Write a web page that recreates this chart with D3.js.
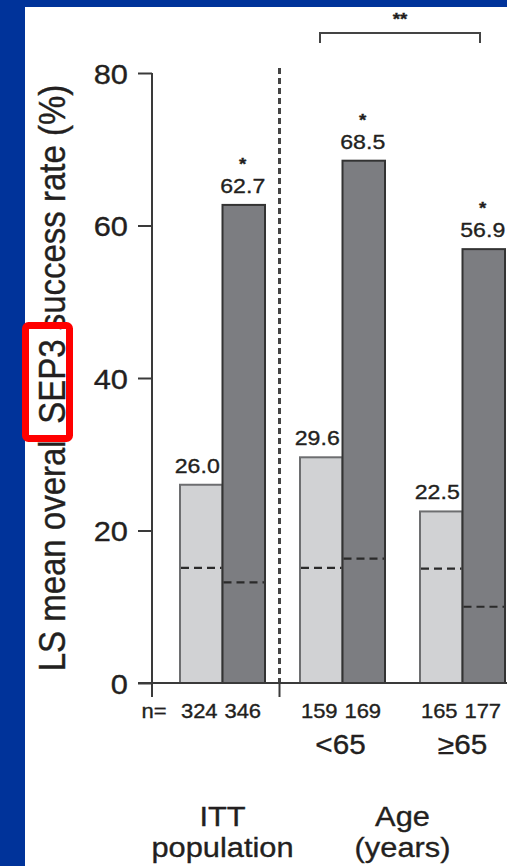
<!DOCTYPE html>
<html>
<head>
<meta charset="utf-8">
<script src="https://cdn.jsdelivr.net/npm/d3@7"></script>
<style>
  html, body { margin: 0; padding: 0; background: #00339a; }
  svg { display: block; }
  text { font-family: "Liberation Sans", Arial, Helvetica, sans-serif; fill: #231f20; stroke: #231f20; stroke-width: 0.35px; }
</style>
</head>
<body>
<svg id="chart" width="507" height="866"></svg>
<script>
// Subgroups along the x axis
const groups = ["ITT", "<65", "≥65"];
const groupLabels = [["ITT", "population"], ["<65"], ["≥65"]];
const seriesKeys = ["control", "active"];

// LS mean overall SEP3 success rate (%)
const controlValues = [26.0, 29.6, 22.5];
const activeValues = [62.7, 68.5, 56.9];

// Reference levels drawn as dashed lines inside each bar
const controlRef = [15.1, 15.1, 15.0];
const activeRef = [13.2, 16.3, 10.0];

// Patients per bar
const controlN = [324, 159, 165];
const activeN = [346, 169, 177];

// Significance marks above the active bars
const activeStars = ["*", "*", "*"];
const bracketMark = "**";

const yTicks = [0, 20, 40, 60, 80];
const yTitle = "LS mean overall SEP3 success rate (%)";

const W = 507, H = 866;
const SX = 1.1; // horizontal stretch of the lettering

const svg = d3.select("#chart");

// white card on the blue slide
svg.append("rect").attr("x", 25).attr("y", 7).attr("width", W - 25).attr("height", H - 7).attr("fill", "#fff");

const y = d3.scaleLinear().domain([0, 80]).range([683, 73]);
const axisX = 152;

const x = d3.scaleBand().domain(groups).range([axisX, 533])
  .paddingInner(35 / 120).paddingOuter(28 / 120);
const xs = d3.scaleBand().domain(seriesKeys).range([0, x.bandwidth()]);

const rows = groups.map((g, i) => ({
  g, i,
  control: controlValues[i], active: activeValues[i],
  controlRef: controlRef[i], activeRef: activeRef[i],
  controlN: controlN[i], activeN: activeN[i], star: activeStars[i]
}));

function stretchedText(sel, px, py, str, size, anchor) {
  return sel.append("text")
    .attr("transform", `translate(${px},${py}) scale(${SX},1)`)
    .attr("text-anchor", anchor || "middle")
    .attr("font-size", size)
    .text(str);
}

// y axis
const yAxis = d3.axisLeft(y).tickValues(yTicks).tickSize(14).tickSizeOuter(0).tickFormat(d3.format("d"));
const yg = svg.append("g").attr("transform", `translate(${axisX},0)`).call(yAxis);
yg.select(".domain").remove();
yg.selectAll(".tick line").attr("stroke", "#3a3a3a").attr("stroke-width", 2);
yg.selectAll(".tick text")
  .attr("x", null).attr("dy", null)
  .attr("font-size", 28)
  .attr("font-family", "Liberation Sans, Arial, sans-serif")
  .attr("fill", "#231f20")
  .attr("text-anchor", "end")
  .attr("transform", `translate(-24,10) scale(${SX},1)`);
svg.append("line").attr("x1", axisX).attr("x2", axisX).attr("y1", y(80)).attr("y2", y(0) + 14)
  .attr("stroke", "#3a3a3a").attr("stroke-width", 2);

// separator between the overall population and the age subgroups
const sepX = x(groups[1]) - 20.5;
svg.append("line").attr("x1", sepX).attr("x2", sepX).attr("y1", 68).attr("y2", y(0))
  .attr("stroke", "#444").attr("stroke-width", 3).attr("stroke-dasharray", "6,4");
svg.append("line").attr("x1", sepX).attr("x2", sepX).attr("y1", y(0)).attr("y2", y(0) + 14)
  .attr("stroke", "#3a3a3a").attr("stroke-width", 2);

// bars: control first with its labels, active bars drawn over them
const barG = svg.append("g");
const lightFill = "#d1d2d4", darkFill = "#7c7d81";

rows.forEach(r => {
  const x0 = x(r.g) + xs("control");
  barG.append("rect").attr("x", x0).attr("y", y(r.control))
    .attr("width", xs.bandwidth()).attr("height", y(0) - y(r.control))
    .attr("fill", lightFill).attr("stroke", "#6d6e70").attr("stroke-width", 2);
  stretchedText(barG, x0 + xs.bandwidth() / 2 - 4, y(r.control) - 12, d3.format(".1f")(r.control), 21);
});

rows.forEach(r => {
  const x1 = x(r.g) + xs("active");
  barG.append("rect").attr("x", x1).attr("y", y(r.active))
    .attr("width", xs.bandwidth()).attr("height", y(0) - y(r.active))
    .attr("fill", darkFill).attr("stroke", "#333", ).attr("stroke-width", 2);
  stretchedText(barG, x1 + xs.bandwidth() / 2 - 1, y(r.active) - 12, d3.format(".1f")(r.active), 21);
  stretchedText(barG, x1 + xs.bandwidth() / 2 - 1, y(r.active) - 12 - 33 + 10, r.star, 17)
    .attr("font-weight", "bold");
});

// dashed reference levels
rows.forEach(r => {
  [["control", r.controlRef], ["active", r.activeRef]].forEach(([k, v]) => {
    const bx = x(r.g) + xs(k);
    barG.append("line").attr("x1", bx + 1).attr("x2", bx + xs.bandwidth() - 1)
      .attr("y1", y(v)).attr("y2", y(v))
      .attr("stroke", "#2a2a2a").attr("stroke-width", 2.2).attr("stroke-dasharray", "8,5");
  });
});

// x baseline
svg.append("line").attr("x1", 138).attr("x2", W).attr("y1", y(0)).attr("y2", y(0))
  .attr("stroke", "#3a3a3a").attr("stroke-width", 2);

// sample sizes
stretchedText(svg, 154, 718, "n=", 20);
rows.forEach(r => {
  stretchedText(svg, x(r.g) + xs("control") + xs.bandwidth() / 2 - 2, 718, r.controlN, 20);
  stretchedText(svg, x(r.g) + xs("active") + xs.bandwidth() / 2 - 1, 718, r.activeN, 20);
});

// subgroup labels
stretchedText(svg, x(groups[1]) + x.bandwidth() / 2 - 2, 754, groupLabels[1][0], 27);
stretchedText(svg, x(groups[2]) + x.bandwidth() / 2, 754, groupLabels[2][0], 27);

// group headings
const ittX = x(groups[0]) + x.bandwidth() / 2;
stretchedText(svg, ittX, 826, groupLabels[0][0], 28);
stretchedText(svg, ittX, 857, groupLabels[0][1], 28);
const ageX = (x(groups[1]) + x(groups[2]) + x.bandwidth()) / 2;
stretchedText(svg, ageX, 826, "Age", 28);
stretchedText(svg, ageX, 857, "(years)", 28);

// significance bracket between the age subgroups
const bx1 = x(groups[1]) + 20, bx2 = x(groups[2]) + 60;
svg.append("path")
  .attr("d", `M${bx1},43V33H${bx2}V43`)
  .attr("fill", "none").attr("stroke", "#444").attr("stroke-width", 2);
stretchedText(svg, (bx1 + bx2) / 2, 25, bracketMark, 17).attr("font-weight", "bold");

// y axis title
svg.append("text")
  .attr("transform", `translate(65,378) scale(${SX},1) rotate(-90)`)
  .attr("text-anchor", "middle")
  .attr("font-size", 33)
  .text(yTitle);

// highlight box around "SEP3"
svg.append("rect").attr("x", 25.5).attr("y", 325.5).attr("width", 44).attr("height", 113)
  .attr("rx", 3).attr("fill", "none").attr("stroke", "#ff0000").attr("stroke-width", 7);
</script>
</body>
</html>
